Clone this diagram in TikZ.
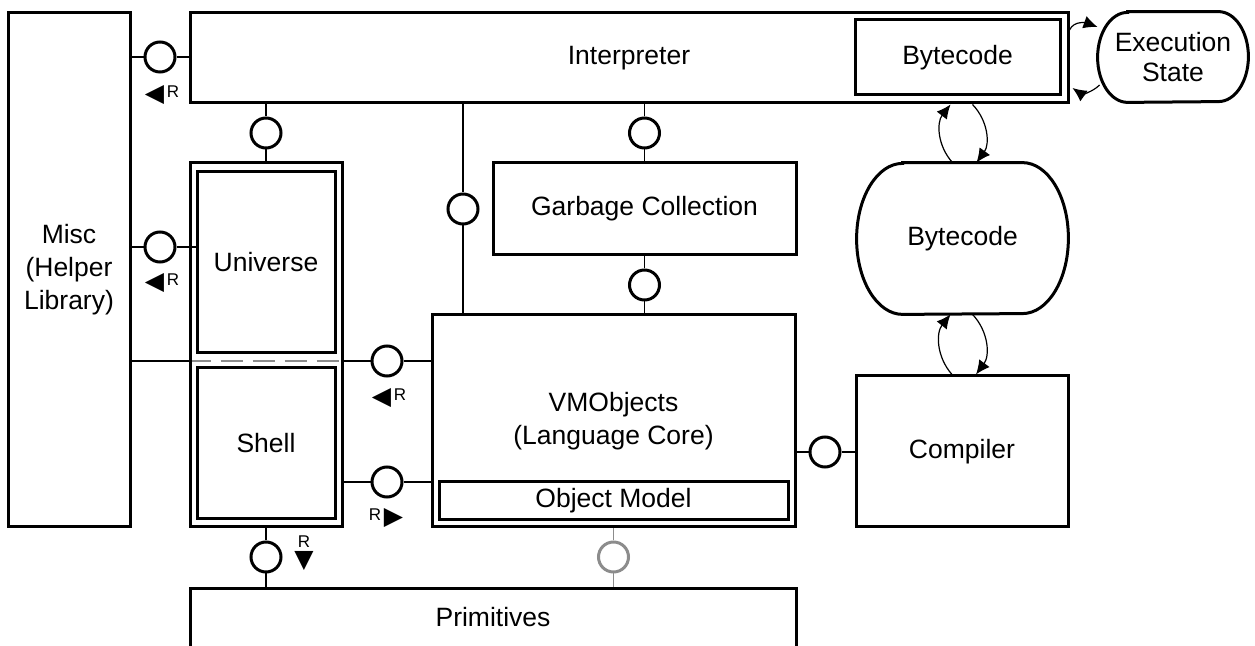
\documentclass[tikz,border=0pt]{standalone}
\usepackage{fontspec}
\setmainfont{Liberation Sans}
\newfontfamily\symfont{DejaVu Sans}
\usetikzlibrary{arrows.meta, positioning, backgrounds}

% small filled triangle for the "R" markers
\newcommand{\trig}[1]{{\symfont\fontsize{12.5pt}{12.5pt}\selectfont\raisebox{-2pt}{#1}}}

% outline of a pill-shaped node: name, x radius, y radius
\newcommand{\pilloutline}[3]{%
  \draw[line width=1.5pt] ([xshift=#2]#1.north west) -- ([xshift=-#2]#1.north east)
    arc[start angle=90, end angle=-90, x radius=#2, y radius=#3]
    -- ([xshift=#2]#1.south west)
    arc[start angle=270, end angle=90, x radius=#2, y radius=#3] -- cycle;
}

\begin{document}
\begin{tikzpicture}[
    x=0.5pt, y=-0.5pt,
    font=\fontsize{13.25pt}{16.5pt}\selectfont,
    comp/.style={rectangle, draw, line width=1.5pt, inner sep=0pt, align=center},
    pill/.style={rectangle, inner sep=0pt, align=center},
    port/.style={circle, draw, line width=1.5pt, minimum size=15pt, inner sep=0pt},
    wire/.style={line width=0.7pt},
    flow/.style={-{Latex[length=7pt, width=6.5pt]}, line width=0.6pt},
    req/.style={font=\fontsize{8.5pt}{9pt}\selectfont, inner sep=0pt, align=center}
]
\useasboundingbox (0,0) rectangle (1255,646);
\clip (0,0) rectangle (1255,646);

% Left column
\node[comp, minimum width=61pt, minimum height=257pt] (misc) at (69,270) {Misc\\(Helper\\Library)};

% Interpreter row
\node[comp, minimum width=439pt, minimum height=45pt] (interp) at (629,58) {Interpreter};
\node[comp, minimum width=102.5pt, minimum height=37.5pt] (bcin) at (957.5,57.5) {Bytecode};
\node[pill, minimum width=75pt, minimum height=45pt, font=\fontsize{13.25pt}{15pt}\selectfont] (exec) at (1173,57) {Execution\\State};
\pilloutline{exec}{15pt}{22.5pt}

% Universe / Shell
\node[comp, minimum width=76pt, minimum height=182pt] (front) at (266,345) {};
\node[comp, minimum width=69pt, minimum height=90.5pt] (universe) at (266,262.5) {Universe};
\node[comp, minimum width=69pt, minimum height=75.5pt] (shell) at (266,443.5) {Shell};

% Core
\node[comp, minimum width=151.5pt, minimum height=46pt] (gc) at (644.5,209) {Garbage Collection};
\node[comp, minimum width=181.5pt, minimum height=106pt] (vm) at (613.5,421) {VMObjects\\(Language Core)};
\node[comp, minimum width=174.5pt, minimum height=19pt] (objmodel) at (613.5,501) {Object Model};

% Bytecode and compiler
\node[pill, minimum width=105.5pt, minimum height=75.5pt] (bytecode) at (962.5,238.5) {Bytecode};
\pilloutline{bytecode}{23pt}{37.75pt}
\node[comp, minimum width=106pt, minimum height=75.5pt] (compiler) at (962,451.5) {Compiler};

% Primitives (runs off the bottom)
\node[comp, minimum width=303pt, minimum height=60pt, text height=9.5pt, text depth=31pt, anchor=north] (prim) at (493,587) {Primitives};

% Interfaces
\node[port] (p1) at (160,57) {};
\node[port] (p2) at (266,133) {};
\node[port] (p3) at (463,209) {};
\node[port] (p4) at (644.5,133) {};
\node[port] (p5) at (644.5,285) {};
\node[port] (p6) at (160,247) {};
\node[port] (p7) at (387,361) {};
\node[port] (p8) at (387,482) {};
\node[port] (p9) at (825,452) {};
\node[port] (p10) at (266,557) {};
\node[port, draw=black!45] (p11) at (613.5,557) {};

\begin{scope}[on background layer]
    \draw[wire] (misc.east |- p1) -- (p1) -- (interp.west |- p1);
    \draw[wire] (front.north |- interp.south) -- (p2) -- (front.north);
    \draw[wire] (p3 |- interp.south) -- (p3) -- (p3 |- vm.north);
    \draw[wire] (p4 |- interp.south) -- (p4) -- (gc.north);
    \draw[wire] (gc.south) -- (p5) -- (p5 |- vm.north);
    \draw[wire] (misc.east |- p6) -- (p6) -- (universe.west |- p6);
    \draw[wire] (misc.east |- p7) -- (front.west |- p7);
    \draw[wire, black!45, dash pattern=on 11pt off 5pt] (front.west |- p7) -- (front.east |- p7);
    \draw[wire] (front.east |- p7) -- (p7) -- (vm.west |- p7);
    \draw[wire] (front.east |- p8) -- (p8) -- (vm.west |- p8);
    \draw[wire] (vm.east |- p9) -- (p9) -- (compiler.west |- p9);
    \draw[wire] (front.south) -- (p10) -- (p10 |- prim.north);
    \draw[wire, black!45] (vm.south) -- (p11) -- (p11 |- prim.north);
\end{scope}

% Required-interface markers
\node[req] (r1) at (162,95) {\trig{◀}\,R};
\node[req] (r2) at (162,283) {\trig{◀}\,R};
\node[req] (r3) at (389,398) {\trig{◀}\,R};
\node[req] (r4) at (386,518) {R\,\trig{▶}};
\node[req] (r5) at (304,553) {R\\[-1pt]\trig{▼}};

% Data flow arrows
\draw[flow] ([yshift=14pt]interp.east) to[out=65, in=160] ([yshift=15pt]exec.west);
\draw[flow] ([xshift=1pt,yshift=-14pt]exec.west) to[out=225, in=-35] ([xshift=1.5pt,yshift=-15pt]interp.east);
\draw[flow] ([xshift=-5pt]bytecode.north) to[bend left=40] ([xshift=-6pt]bytecode.north |- interp.south);
\draw[flow] ([xshift=5pt]bytecode.north |- interp.south) to[bend left=40] ([xshift=7pt]bytecode.north);
\draw[flow] ([xshift=-5pt]compiler.north) to[bend left=40] ([xshift=-6pt]bytecode.south);
\draw[flow] ([xshift=5pt]bytecode.south) to[bend left=40] ([xshift=7pt]compiler.north);

\end{tikzpicture}
\end{document}
